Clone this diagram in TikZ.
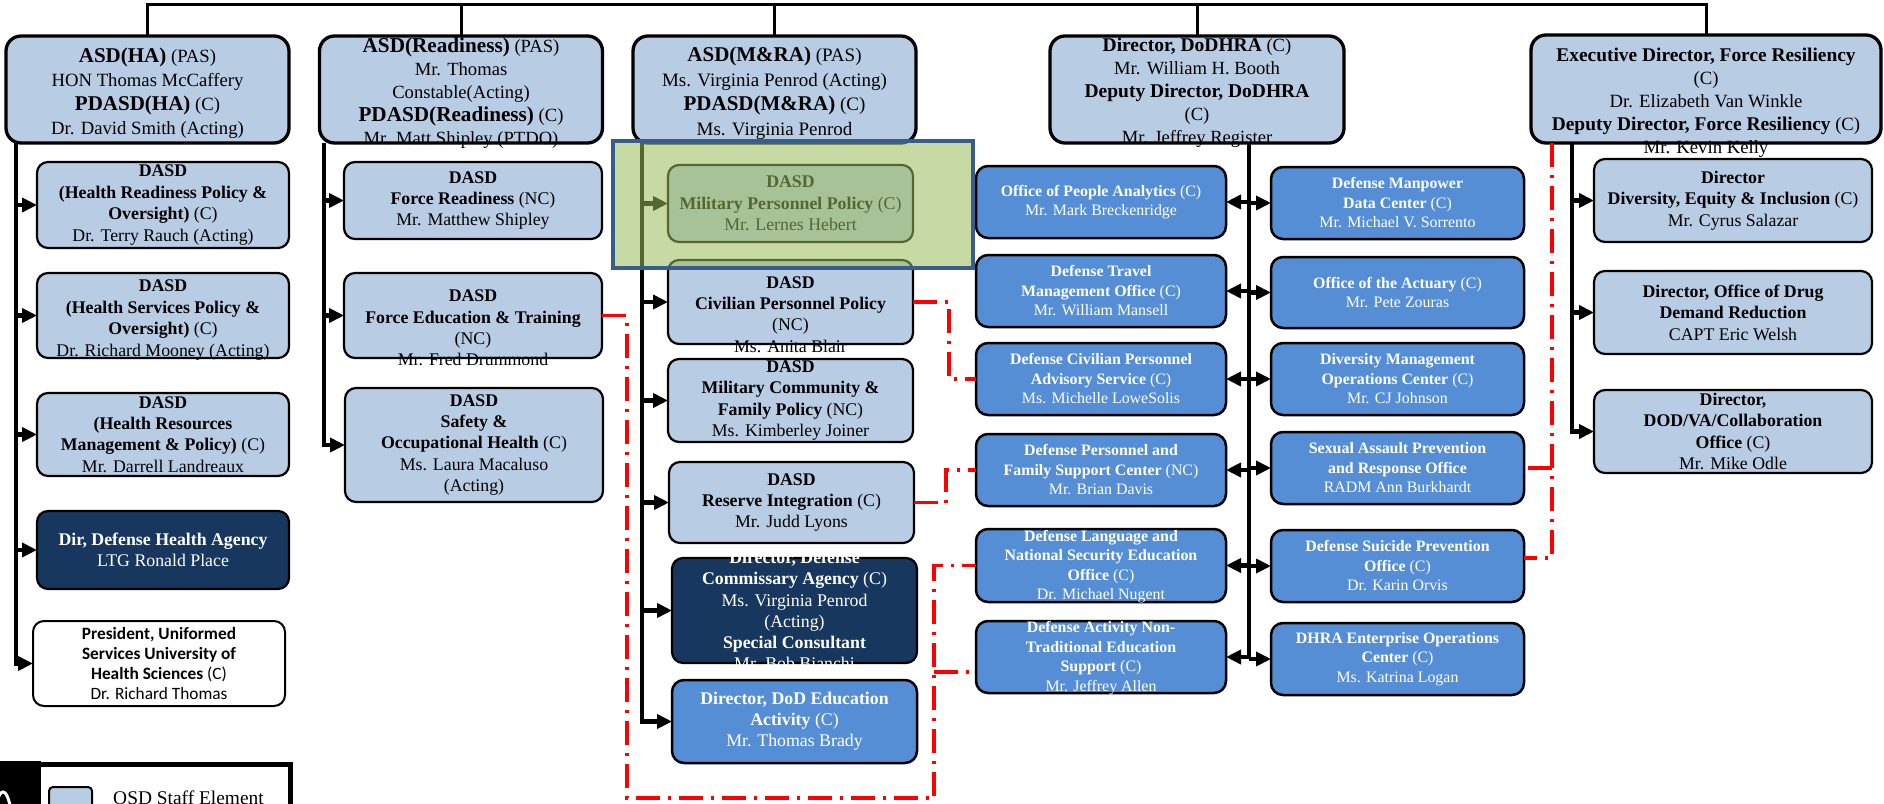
\documentclass[tikz,border=0pt]{standalone}
\usepackage{fontspec}
\setmainfont{Liberation Serif}
\newfontfamily\calfont{Carlito}
\usetikzlibrary{arrows.meta}

\definecolor{osdblue}{HTML}{B8CCE4}
\definecolor{fieldblue}{HTML}{558ED5}
\definecolor{agencynavy}{HTML}{17375E}
\definecolor{mpgreen}{HTML}{9BBB59}
\definecolor{mpframe}{HTML}{385D8A}

\newcommand\sz[2]{\fontsize{#1}{#2}\selectfont}
\newcommand\hd[2]{{\fontsize{#1}{24}\selectfont\bfseries #2}}

\begin{document}
\begin{tikzpicture}[x=1pt, y=-1pt,
    box/.style={rectangle, rounded corners=11pt, draw=black, line width=2.2pt, inner sep=0pt, outer sep=0pt},
    wh/.style 2 args={minimum width=#1, minimum height=#2},
    head/.style={box, fill=osdblue, line width=3.3pt, rounded corners=15pt},
    osd/.style={box, fill=osdblue},
    field/.style={box, fill=fieldblue, line width=2.5pt, rounded corners=12pt},
    agency/.style={box, fill=agencynavy},
    other/.style={box, fill=white, line width=2pt},
    tx/.style={align=center, inner sep=0pt, font=\sz{17.8}{21.4}},
    ftx/.style={tx, text=white, font=\sz{15.9}{19.5}},
    bus/.style={line width=3pt},
    spine/.style={line width=4.5pt},
    arr/.style={line width=4.5pt, -{Triangle[length=15pt,width=14pt]}},
    liaison/.style={draw=red, line width=3.5pt, dash pattern=on 24pt off 8pt on 3pt off 8pt},
    highlight/.style={rectangle, fill=mpgreen, fill opacity=0.55, draw=mpframe, line width=4pt, inner sep=0pt}]
    \useasboundingbox (0,0) rectangle (1884,803);
    \clip (0,0) rectangle (1884,803);

    \node[head, wh={283}{107}, label={[tx, font=\sz{18.7}{24}, yshift=-3.5pt]center:{\hd{21}{ASD(HA)} (PAS)\\HON Thomas McCaffery\\\hd{21}{PDASD(HA)} (C)\\Dr. David Smith (Acting)}}] (ha) at (147.5,89.5) {};
    \node[head, wh={283}{107}, label={[tx, font=\sz{18.6}{23}, yshift=-4pt]center:{\hd{21.2}{ASD(Readiness)} (PAS)\\Mr. Thomas\\Constable(Acting)\\\hd{21.2}{PDASD(Readiness)} (C)\\Mr. Matt Shipley (PTDO)}}] (rd) at (461,89.5) {};
    \node[head, wh={283}{107}, label={[tx, font=\sz{19}{24.5}, yshift=-4pt]center:{\hd{21}{ASD(M\&RA)} (PAS)\\Ms. Virginia Penrod (Acting)\\\hd{21}{PDASD(M\&RA)} (C)\\Ms. Virginia Penrod}}] (mra) at (774.5,89.5) {};
    \node[head, wh={294}{107}, label={[tx, font=\sz{18.6}{23}, yshift=-3pt]center:{\hd{19.5}{Director, DoDHRA} (C)\\Mr. William H. Booth\\\hd{19.5}{Deputy Director, DoDHRA}\\(C)\\Mr. Jeffrey Register}}] (hra) at (1197,89.5) {};
    \node[head, wh={350}{108}, label={[tx, font=\sz{18.7}{23}, yshift=-14pt]center:{\hd{19.4}{Executive Director, Force Resiliency}\\(C)\\Dr. Elizabeth Van Winkle\\\hd{19.4}{Deputy Director, Force Resiliency} (C)\\Mr. Kevin Kelly}}] (frs) at (1706,89) {};

    \node[osd, wh={252}{86}, label={[tx]center:{\textbf{DASD}\\\textbf{(Health Readiness Policy \&}\\\textbf{Oversight)} (C)\\Dr. Terry Rauch (Acting)}}] (hrp) at (163,205) {};
    \node[osd, wh={252}{85}, label={[tx, yshift=-4.5pt]center:{\textbf{DASD}\\\textbf{(Health Services Policy \&}\\\textbf{Oversight)} (C)\\Dr. Richard Mooney (Acting)}}] (hsp) at (163,315.5) {};
    \node[osd, wh={252}{83}, label={[tx]center:{\textbf{DASD}\\\textbf{(Health Resources}\\\textbf{Management \& Policy)} (C)\\Mr. Darrell Landreaux}}] (hrmp) at (163,434.5) {};
    \node[agency, wh={252}{78}, label={[tx, text=white]center:{\textbf{Dir, Defense Health Agency}\\LTG Ronald Place}}] (dha) at (163,550) {};
    \node[other, wh={252}{85}, label={[tx, font=\calfont\sz{17.3}{20.2}]center:{\textbf{President, Uniformed}\\\textbf{Services University of}\\\textbf{Health Sciences} (C)\\Dr. Richard Thomas}}] (usu) at (159,663.5) {};

    \node[osd, wh={258}{77}, label={[tx]center:{\textbf{DASD}\\\textbf{Force Readiness} (NC)\\Mr. Matthew Shipley}}] (frd) at (473,200.5) {};
    \node[osd, wh={258}{85}, label={[tx, yshift=-12.5pt]center:{\textbf{DASD}\\\textbf{Force Education \& Training}\\(NC)\\Mr. Fred Drummond}}] (fet) at (473,315.5) {};
    \node[osd, wh={258}{114}, label={[tx]center:{\textbf{DASD}\\\textbf{Safety \&}\\\textbf{Occupational Health} (C)\\Ms. Laura Macaluso\\(Acting)}}] (soh) at (474,445) {};

    \node[osd, wh={245}{77}, label={[tx]center:{\textbf{DASD}\\\textbf{Military Personnel Policy} (C)\\Mr. Lernes Hebert}}] (mpp) at (790.5,203.5) {};
    \node[osd, wh={245}{84}, label={[tx, yshift=-12.5pt]center:{\textbf{DASD}\\\textbf{Civilian Personnel Policy}\\(NC)\\Ms. Anita Blair}}] (cpp) at (790.5,302) {};
    \node[osd, wh={245}{83}, label={[tx]center:{\textbf{DASD}\\\textbf{Military Community \&}\\\textbf{Family Policy} (NC)\\Ms. Kimberley Joiner}}] (mcfp) at (790.5,400.5) {};
    \node[osd, wh={245}{81}, label={[tx]center:{\textbf{DASD}\\\textbf{Reserve Integration} (C)\\Mr. Judd Lyons}}] (ri) at (791.5,502.5) {};
    \node[agency, wh={245}{105}, label={[tx, text=white, font=\sz{17.8}{21.2}]center:{\textbf{Director, Defense}\\\textbf{Commissary Agency} (C)\\Ms. Virginia Penrod\\(Acting)\\\textbf{Special Consultant}\\Mr. Bob Bianchi}}] (deca) at (794.5,610.5) {};
    \node[field, wh={245}{83}, label={[ftx, font=\sz{17.8}{21}]center:{\textbf{Director, DoD Education}\\\textbf{Activity} (C)\\Mr. Thomas Brady}}] (dodea) at (794.5,721.5) {};

    \node[field, wh={250}{72}, label={[ftx]center:{\textbf{Office of People Analytics} (C)\\Mr. Mark Breckenridge}}] (opa) at (1101,202) {};
    \node[field, wh={250}{72}, label={[ftx]center:{\textbf{Defense Travel}\\\textbf{Management Office} (C)\\Mr. William Mansell}}] (dtmo) at (1101,291) {};
    \node[field, wh={250}{72}, label={[ftx]center:{\textbf{Defense Civilian Personnel}\\\textbf{Advisory Service} (C)\\Ms. Michelle LoweSolis}}] (dcpas) at (1101,379) {};
    \node[field, wh={250}{72}, label={[ftx]center:{\textbf{Defense Personnel and}\\\textbf{Family Support Center} (NC)\\Mr. Brian Davis}}] (dpfsc) at (1101,470) {};
    \node[field, wh={250}{73}, label={[ftx, yshift=-1pt]center:{\textbf{Defense Language and}\\\textbf{National Security Education}\\\textbf{Office} (C)\\Dr. Michael Nugent}}] (dlnseo) at (1101,565.5) {};
    \node[field, wh={250}{72}, label={[ftx, yshift=-1pt]center:{\textbf{Defense Activity Non-}\\\textbf{Traditional Education}\\\textbf{Support} (C)\\Mr. Jeffrey Allen}}] (dantes) at (1101,657) {};

    \node[field, wh={253}{72}, label={[ftx]center:{\textbf{Defense Manpower}\\\textbf{Data Center} (C)\\Mr. Michael V. Sorrento}}] (dmdc) at (1397.5,203) {};
    \node[field, wh={253}{71}, label={[ftx]center:{\textbf{Office of the Actuary} (C)\\Mr. Pete Zouras}}] (act) at (1397.5,292.5) {};
    \node[field, wh={253}{72}, label={[ftx]center:{\textbf{Diversity Management}\\\textbf{Operations Center} (C)\\Mr. CJ Johnson}}] (dmoc) at (1397.5,379) {};
    \node[field, wh={253}{72}, label={[ftx]center:{\textbf{Sexual Assault Prevention}\\\textbf{and Response Office}\\RADM Ann Burkhardt}}] (sapro) at (1397.5,468) {};
    \node[field, wh={253}{72}, label={[ftx]center:{\textbf{Defense Suicide Prevention}\\\textbf{Office} (C)\\Dr. Karin Orvis}}] (dspo) at (1397.5,566) {};
    \node[field, wh={253}{72}, label={[ftx]center:{\textbf{DHRA Enterprise Operations}\\\textbf{Center} (C)\\Ms. Katrina Logan}}] (eoc) at (1397.5,659) {};

    \node[osd, wh={278}{83}, label={[tx]center:{\textbf{Director}\\\textbf{Diversity, Equity \& Inclusion} (C)\\Mr. Cyrus Salazar}}] (dei) at (1733,200.5) {};
    \node[osd, wh={278}{83}, label={[tx]center:{\textbf{Director, Office of Drug}\\\textbf{Demand Reduction}\\CAPT Eric Welsh}}] (ddr) at (1733,312.5) {};
    \node[osd, wh={278}{83}, label={[tx]center:{\textbf{Director,}\\\textbf{DOD/VA/Collaboration}\\\textbf{Office} (C)\\Mr. Mike Odle}}] (dva) at (1733,431.5) {};

    \coordinate (busL) at (0,4);
    \draw[bus] (ha.north) |- (busL -| frs.north) -- (frs.north);
    \foreach \n in {rd,mra,hra}
        \draw[bus] (\n.north) -- (\n.north |- busL);

    \coordinate (haS) at (16,143);
    \draw[arr] (haS) |- (usu.west);
    \foreach \n in {hrp,hsp,hrmp,dha}
        \draw[arr] (haS |- \n.west) -- (\n.west);

    \coordinate (rdS) at (324,143);
    \draw[arr] (rdS) |- (soh.west);
    \foreach \n in {frd,fet}
        \draw[arr] (rdS |- \n.west) -- (\n.west);

    \coordinate (mraS) at (642,143);
    \draw[arr] (mraS) |- (dodea.west);
    \foreach \n in {mpp,cpp,mcfp,ri,deca}
        \draw[arr] (mraS |- \n.west) -- (\n.west);

    \coordinate (hraS) at (1249,143);
    \draw[spine] (hraS) -- (hraS |- eoc.west);
    \foreach \n in {opa,dtmo,dcpas,dpfsc,dlnseo,dantes}
        \draw[arr] (hraS |- \n.east) -- (\n.east);
    \foreach \n in {dmdc,act,dmoc,sapro,dspo,eoc}
        \draw[arr] (hraS |- \n.west) -- (\n.west);

    \coordinate (frS) at (1572,143);
    \draw[arr] (frS) |- (dva.west);
    \foreach \n in {dei,ddr}
        \draw[arr] (frS |- \n.west) -- (\n.west);

    \coordinate (rA) at (627,798);
    \coordinate (rB) at (934,798);
    \coordinate (rC) at (934,672);
    \coordinate (cx) at (949,0);
    \coordinate (rx) at (946,0);
    \coordinate (frl) at (1552,0);
    \draw[liaison] (fet.east) -| (rA) -- (rB) |- (dlnseo.west);
    \draw[liaison] (rC) -- (rC -| dantes.west);
    \draw[liaison] (cpp.east) -- (cpp.east -| cx) |- (dcpas.west);
    \draw[liaison] (ri.east) -- (ri.east -| rx) |- (dpfsc.west);
    \draw[liaison] (frs.south -| frl) |- ([yshift=8pt]dspo.east);
    \draw[liaison] (frl |- sapro.east) -- (sapro.east);

    \node[highlight, wh={360}{127}] (mpphl) at (793,204.5) {};

    \fill (0,761) rectangle (41,810);
    \draw[white, line width=3pt] (-4,803) to[out=-90,in=180] (3,792) to[out=0,in=-90] (10,803);
    \draw[line width=5pt] (36,764) -- (290.5,764) -- (290.5,810);
    \node[osd, wh={43}{35}, rounded corners=4pt, line width=2pt] (lgkey) at (70.5,804.5) {};
    \node[font=\sz{19.4}{22}, inner sep=0pt] (lgtext) at (188.5,798) {OSD Staff Element};
\end{tikzpicture}
\end{document}
